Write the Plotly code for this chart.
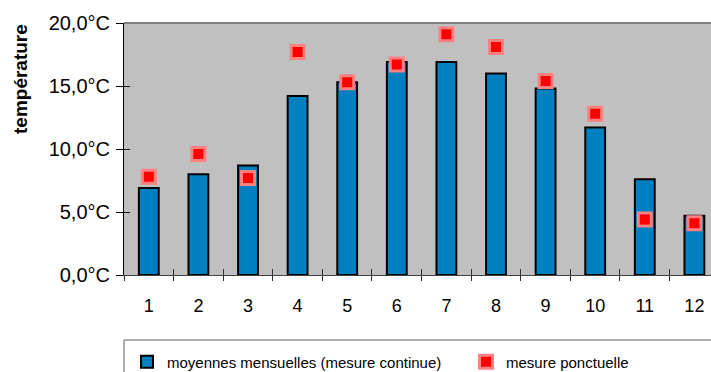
import plotly.graph_objects as go

months = ["1", "2", "3", "4", "5", "6", "7", "8", "9", "10", "11", "12"]
monthly_mean = [6.9, 8.0, 8.7, 14.2, 15.3, 16.9, 16.9, 16.0, 14.8, 11.7, 7.6, 4.7]
spot_measure = [7.8, 9.6, 7.7, 17.7, 15.3, 16.7, 19.1, 18.1, 15.4, 12.8, 4.4, 4.1]
y_ticks = [0, 5, 10, 15, 20]
y_tick_text = ["0,0°C", "5,0°C", "10,0°C", "15,0°C", "20,0°C"]
y_title = "température"

FONT = "Liberation Sans, Arial, sans-serif"
W, H = 711, 372
ML, MR, MT, MB = 124, 0, 23, 97
PW, PH = W - ML - MR, H - MT - MB
X_RANGE = [-0.5, 11.335]

fig = go.Figure()
fig.add_trace(go.Bar(
    x=months, y=monthly_mean,
    name="moyennes mensuelles (mesure continue)",
    width=0.40,
    marker=dict(color="#0080C0", line=dict(color="#000000", width=2)),
    legend="legend",
))
fig.add_trace(go.Scatter(
    x=months, y=spot_measure,
    name="mesure ponctuelle",
    mode="markers",
    marker=dict(symbol="square", size=13, color="#FF0000",
                line=dict(color="#FF8080", width=3)),
    legend="legend2",
))
# empty trace so the overlaid tick-only axes get drawn
fig.add_trace(go.Scatter(x=[], y=[], xaxis="x2", yaxis="y2", mode="markers",
                         showlegend=False, hoverinfo="skip"))

legend_common = dict(
    orientation="h",
    xref="container", yref="container",
    xanchor="left", yanchor="middle",
    y=(H - 362) / H,
    font=dict(size=15, family=FONT),
    bgcolor="rgba(0,0,0,0)",
    borderwidth=0,
)

# category boundaries, used for the outer half of the crossing tick marks
boundaries = [i + 0.5 for i in range(-1, len(months))]

fig.update_layout(
    width=W, height=H,
    margin=dict(l=ML, r=MR, t=MT, b=MB, autoexpand=False),
    paper_bgcolor="white",
    plot_bgcolor="#C0C0C0",
    font=dict(family=FONT, color="black"),
    showlegend=True,
    legend=dict(legend_common, x=127 / W),
    legend2=dict(legend_common, x=466 / W),
    xaxis=dict(
        type="category",
        range=X_RANGE,
        tickson="boundaries",
        ticks="inside", ticklen=6, tickcolor="#303030", tickwidth=1,
        showline=True, linecolor="#404040", linewidth=1,
        showgrid=False, zeroline=False,
        tickfont=dict(size=18, family=FONT),
        ticklabelstandoff=14,
        automargin=False,
    ),
    xaxis2=dict(
        type="linear",
        overlaying="x", side="bottom",
        range=X_RANGE,
        tickmode="array", tickvals=boundaries,
        ticks="outside", ticklen=5, tickcolor="#303030", tickwidth=1,
        showticklabels=False, showline=False, showgrid=False, zeroline=False,
        automargin=False,
    ),
    yaxis=dict(
        range=[0, 20],
        tickvals=y_ticks, ticktext=y_tick_text,
        ticks="outside", ticklen=7, tickcolor="#000000", tickwidth=1,
        showline=True, linecolor="#000000", linewidth=1,
        showgrid=False, zeroline=False,
        tickfont=dict(size=20, family=FONT),
        ticklabelstandoff=2,
        automargin=False,
    ),
    yaxis2=dict(
        type="linear",
        overlaying="y", side="left",
        range=[0, 20],
        tickmode="array", tickvals=y_ticks,
        ticks="inside", ticklen=6, tickcolor="#000000", tickwidth=1,
        showticklabels=False, showline=False, showgrid=False, zeroline=False,
        automargin=False,
    ),
    annotations=[
        # axis title, top-aligned along the value axis
        dict(text="<b>" + y_title + "</b>", textangle=-90,
             xref="paper", yref="paper",
             x=(20 - ML) / PW, y=1 + (MT - 22) / PH, xanchor="center", yanchor="top",
             showarrow=False, font=dict(size=19, family=FONT, color="black")),
    ],
    shapes=[
        # gray frame line across the top of the plotting area
        dict(type="line", xref="paper", yref="paper", x0=0, x1=1.02, y0=1, y1=1,
             line=dict(color="#808080", width=2)),
        # legend frame
        dict(type="rect", xref="paper", yref="paper", x0=0, x1=1.05, y0=-0.258, y1=-0.6,
             line=dict(color="#606060", width=1), fillcolor="rgba(0,0,0,0)", layer="below"),
    ],
)

fig.write_html("out.html")
